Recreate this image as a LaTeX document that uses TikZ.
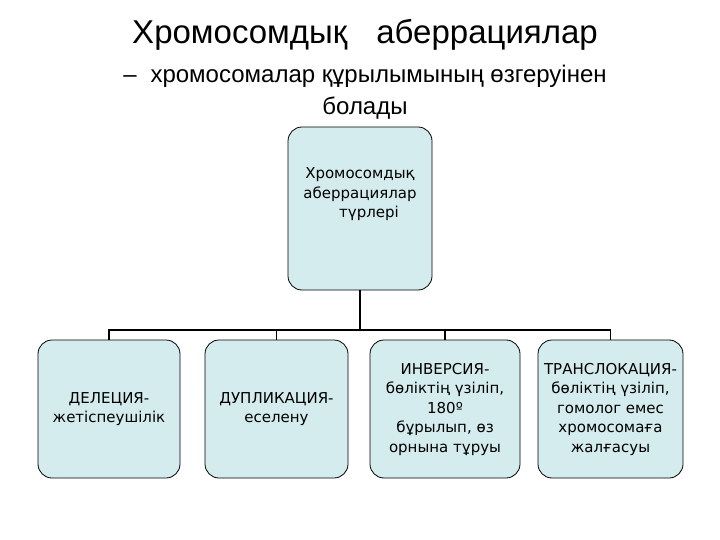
\documentclass[tikz,border=0pt]{standalone}
\usepackage{fontspec}
\setmainfont{Liberation Sans}
\newfontfamily\boxfont{DejaVu Sans}
\definecolor{boxfill}{RGB}{212,236,238}
\begin{document}
\begin{tikzpicture}[x=1pt,y=-1pt,
  bx/.style={draw=black,line width=0.8pt,fill=boxfill,rounded corners=14pt,align=center,font=\boxfont\fontsize{15}{19.5}\selectfont,inner sep=1pt},
  ln/.style={line width=1.2pt}]
\useasboundingbox (0,0) rectangle (720,540);
\node[font=\fontsize{33}{38}\selectfont] (t) at (365,35) {Хромосомдық\hspace{0.6em} аберрациялар};
\node[font=\fontsize{24}{32}\selectfont,align=center] (s) at (365,92) {–\hspace{0.3em} хромосомалар құрылымының өзгеруінен\\болады};
\node[bx,minimum width=144pt,minimum height=163pt] (c) at (360,208.5) {Хромосомдық\\аберрациялар\\\hspace{1.2em}түрлері\\[12pt]};
\node[bx,minimum width=142pt,minimum height=138pt] (a) at (109,409) {ДЕЛЕЦИЯ-\\жетіспеушілік};
\node[bx,minimum width=143pt,minimum height=138pt] (b) at (276.5,409) {ДУПЛИКАЦИЯ-\\еселену};
\node[bx,minimum width=150pt,minimum height=138pt] (d) at (445,409) {ИНВЕРСИЯ-\\бөліктің үзіліп,\\180º\\бұрылып, өз\\орнына тұруы};
\node[bx,minimum width=145pt,minimum height=138pt] (e) at (610.5,409) {ТРАНСЛОКАЦИЯ-\\бөліктің үзіліп,\\гомолог емес\\хромосомаға\\жалғасуы};
\coordinate (j) at (360,330);
\draw[ln] (c.south) -- (j);
\draw[ln] (a.north) -- (a.north|-j) -- (e.north|-j) -- (e.north);
\draw[ln] (b.north) -- (b.north|-j);
\draw[ln] (d.north) -- (d.north|-j);
\end{tikzpicture}
\end{document}
